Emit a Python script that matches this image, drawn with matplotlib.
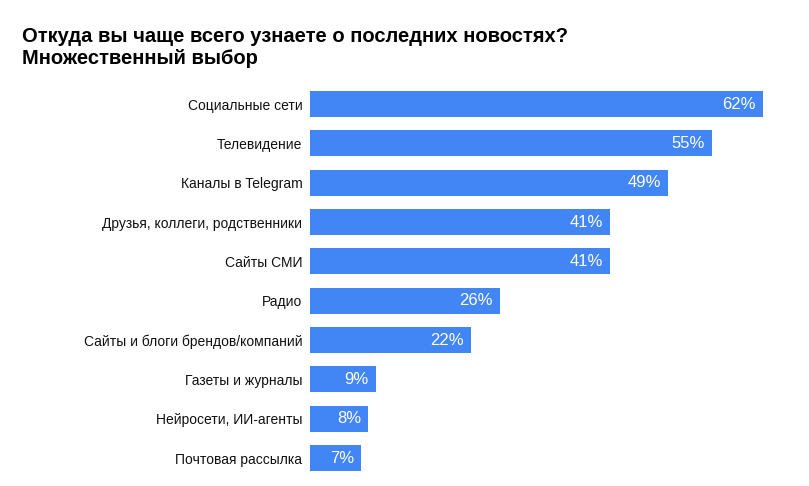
import matplotlib
matplotlib.use('Agg')
import matplotlib.pyplot as plt

# Источники новостей, % респондентов
categories = ['Социальные сети', 'Телевидение', 'Каналы в Telegram',
              'Друзья, коллеги, родственники', 'Сайты СМИ', 'Радио',
              'Сайты и блоги брендов/компаний', 'Газеты и журналы',
              'Нейросети, ИИ-агенты', 'Почтовая рассылка']
values = [62, 55, 49, 41, 41, 26, 22, 9, 8, 7]
value_labels = [f'{v}%' for v in values]

title = 'Откуда вы чаще всего узнаете о последних новостях?\nМножественный выбор'

plt.rcParams['font.family'] = ['Liberation Sans', 'DejaVu Sans']

W, H = 809, 486
fig = plt.figure(figsize=(W / 100, H / 100), dpi=100)
ax = fig.add_axes([310 / W, 1 - 477.7 / H, (763 - 310) / W, 393.3 / H])

y = list(range(len(categories)))
bars = ax.barh(y, values, height=0.66, color='#4285F4')
ax.set_xlim(0, 62)
ax.set_ylim(len(categories) - 0.5, -0.5)
ax.set_yticks(y)
ax.set_yticklabels(categories, fontsize=10, color='#111111')
ax.tick_params(axis='y', length=0, pad=5.5)
ax.set_xticks([])
for s in ax.spines.values():
    s.set_visible(False)

for b, lab in zip(bars, value_labels):
    ax.annotate(lab, (b.get_width(), b.get_y() + b.get_height() / 2),
                xytext=(-5, 0), textcoords='offset points',
                ha='right', va='center', color='white', fontsize=12)

fig.text(22 / W, 1 - 27 / H, title, ha='left', va='top', fontsize=14.5,
         fontweight='bold', color='black', linespacing=1.18)

fig.savefig('out.png', dpi=100)
